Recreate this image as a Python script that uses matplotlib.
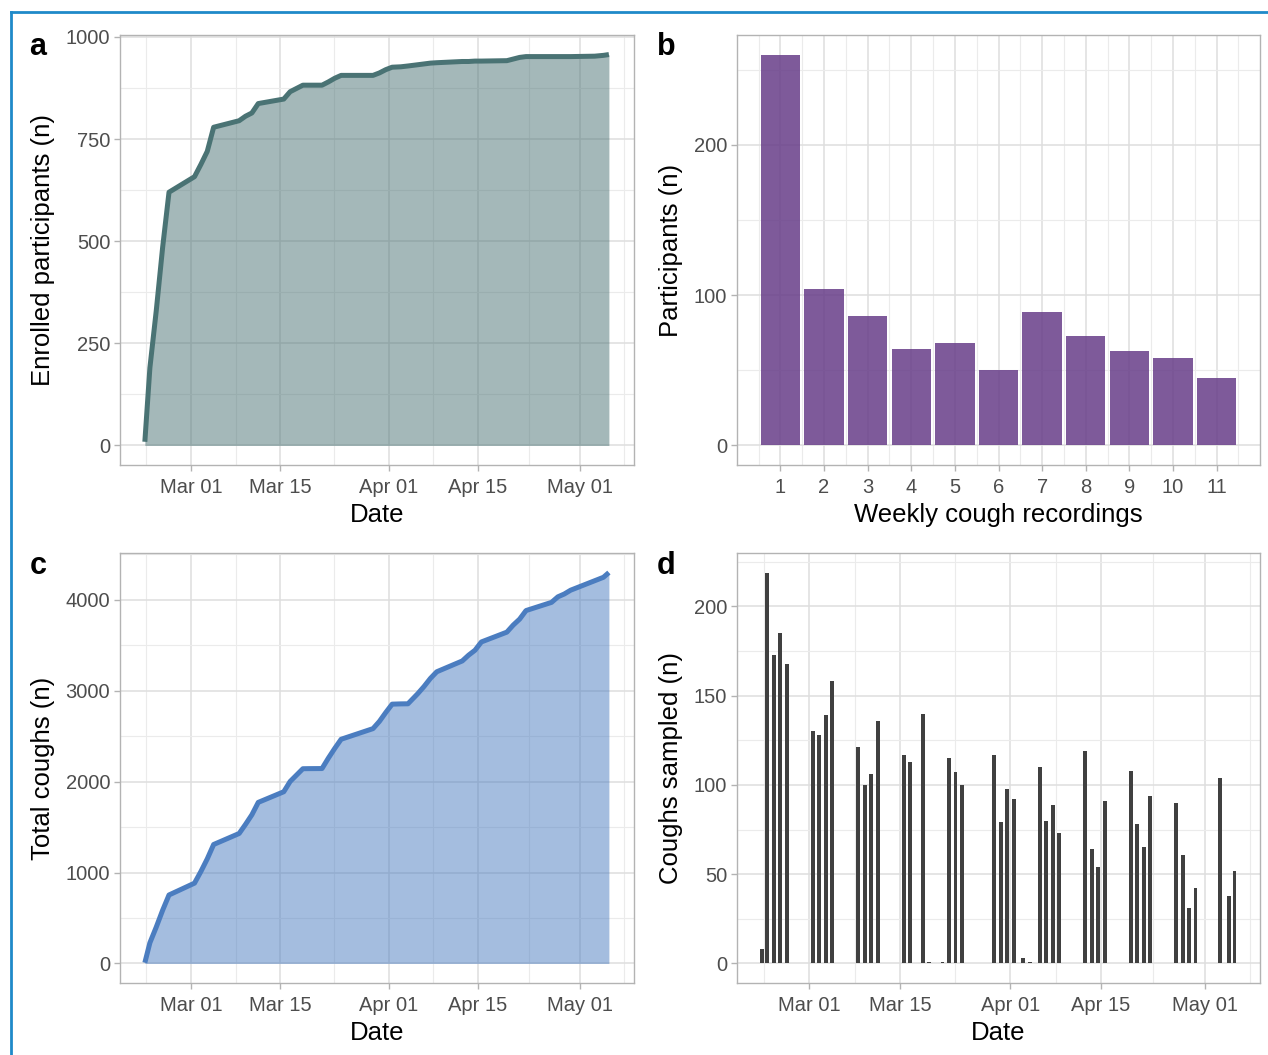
import matplotlib
matplotlib.use("Agg")
import matplotlib.pyplot as plt
import matplotlib.dates as mdates
from matplotlib.ticker import FixedLocator, NullFormatter
from matplotlib.lines import Line2D
import numpy as np
import pandas as pd

plt.rcParams['font.family'] = ['Liberation Sans', 'DejaVu Sans']

# ---------------- data ----------------
sample_times = [
    "2021-02-21 18:30", "2021-02-22 13:30", "2021-02-23 13:30", "2021-02-24 13:30", "2021-02-25 13:30",
    "2021-03-01 13:30", "2021-03-02 13:30", "2021-03-03 13:30", "2021-03-04 13:30",
    "2021-03-08 13:30", "2021-03-09 13:30", "2021-03-10 13:30", "2021-03-11 13:30",
    "2021-03-15 13:30", "2021-03-16 13:30", "2021-03-18 13:30", "2021-03-19 10:00",
    "2021-03-21 13:30", "2021-03-22 13:30", "2021-03-23 13:30", "2021-03-24 13:30",
    "2021-03-29 13:30", "2021-03-30 13:30", "2021-03-31 13:30", "2021-04-01 13:30",
    "2021-04-02 22:00", "2021-04-04 01:00",
    "2021-04-05 13:30", "2021-04-06 13:30", "2021-04-07 13:30", "2021-04-08 13:30",
    "2021-04-12 13:30", "2021-04-13 13:30", "2021-04-14 13:30", "2021-04-15 13:30",
    "2021-04-19 13:30", "2021-04-20 13:30", "2021-04-21 13:30", "2021-04-22 13:30",
    "2021-04-26 13:30", "2021-04-27 13:30", "2021-04-28 13:30", "2021-04-29 13:30",
    "2021-05-03 08:00", "2021-05-04 17:00", "2021-05-05 13:30",
]

enrolled = [
    9, 190, 330, 485, 620,
    658, 688, 720, 779,
    795, 806, 814, 837,
    848, 866, 882, 882,
    882, 890, 899, 906,
    906, 912, 920, 926,
    927, 929,
    932, 934, 936, 937,
    940, 940, 941, 941,
    942, 946, 950, 952,
    952, 952, 952, 952,
    953, 955, 957,
]

coughs_sampled = [
    8, 219, 173, 185, 168,
    130, 128, 139, 158,
    121, 100, 106, 136,
    117, 113, 140, 1,
    1, 115, 107, 100,
    117, 79, 98, 92,
    3, 1,
    110, 80, 89, 73,
    119, 64, 54, 91,
    108, 78, 65, 94,
    90, 61, 31, 42,
    104, 38, 52,
]

weekly_recordings = [1, 2, 3, 4, 5, 6, 7, 8, 9, 10, 11]
participants = [260, 104, 86, 64, 68, 50, 89, 73, 63, 58, 45]

date_breaks = ["2021-03-01 00:00", "2021-03-15 00:00", "2021-04-01 00:00",
               "2021-04-15 00:00", "2021-05-01 00:00"]
date_minor = ["2021-02-22 00:00", "2021-03-08 00:00", "2021-03-23 12:00",
              "2021-04-08 00:00", "2021-04-23 00:00", "2021-05-08 00:00"]
date_limits = ["2021-02-17 21:00", "2021-05-09 12:00"]

# ---------------- style ----------------
W, H = 1268, 1055
fig = plt.figure(figsize=(W / 100, H / 100), dpi=100)

COL_A = '#4A7374'
COL_B = '#673D89'
COL_C = '#4B7DC0'
COL_D = '#404040'
TICK_FS = 14.5
LAB_FS = 18.5


def ax_at(l, t, r, b):
    return fig.add_axes([l / W, 1 - b / H, (r - l) / W, (b - t) / H])


def tonum(s):
    return mdates.date2num(pd.to_datetime(s, format='mixed').to_pydatetime())


def style(ax):
    ax.set_facecolor('white')
    for s in ax.spines.values():
        s.set_color('#B3B3B3')
        s.set_linewidth(1.0)
    ax.grid(which='major', color='#DEDEDE', lw=1.1)
    ax.grid(which='minor', color='#EBEBEB', lw=0.8)
    ax.set_axisbelow(True)
    ax.tick_params(which='major', length=4.5, width=1, color='#B3B3B3',
                   labelsize=TICK_FS, labelcolor='#4D4D4D')
    ax.tick_params(axis='x', which='major', pad=5)
    ax.tick_params(axis='y', which='major', pad=2.5)
    ax.tick_params(which='minor', length=0)


def yexpand(ax, vmax, vmin=0.0):
    r = vmax - vmin
    ax.set_ylim(vmin - 0.05 * r, vmax + 0.05 * r)


def date_axis(ax):
    lim = tonum(date_limits)
    ax.set_xlim(lim[0], lim[1])
    ax.xaxis.set_major_locator(FixedLocator(tonum(date_breaks)))
    ax.xaxis.set_major_formatter(mdates.DateFormatter('%b %d'))
    ax.xaxis.set_minor_locator(FixedLocator(tonum(date_minor)))
    ax.xaxis.set_minor_formatter(NullFormatter())


tx = tonum(sample_times)

# ---------------- panel a ----------------
ax = ax_at(120, 35, 634, 465)
style(ax)
ax.fill_between(tx, enrolled, 0, color=COL_A, alpha=0.5, lw=0)
ax.plot(tx, enrolled, color=COL_A, lw=3.6, solid_joinstyle='round', solid_capstyle='butt')
date_axis(ax)
yexpand(ax, max(enrolled))
ax.yaxis.set_major_locator(FixedLocator([0, 250, 500, 750, 1000]))
ax.yaxis.set_minor_locator(FixedLocator([125, 375, 625, 875]))
ax.set_xlabel('Date', fontsize=LAB_FS, labelpad=4)
ax.set_ylabel('Enrolled participants (n)', fontsize=LAB_FS, labelpad=8)

# ---------------- panel b ----------------
ax = ax_at(737, 35, 1260, 465)
style(ax)
ax.bar(weekly_recordings, participants, width=0.9, color=COL_B, alpha=0.85, lw=0)
ax.set_xlim(0.005, 11.995)
ax.xaxis.set_major_locator(FixedLocator(weekly_recordings))
ax.xaxis.set_minor_locator(FixedLocator([w + 0.5 for w in [0] + weekly_recordings]))
yexpand(ax, max(participants))
ax.yaxis.set_major_locator(FixedLocator([0, 100, 200]))
ax.yaxis.set_minor_locator(FixedLocator([50, 150, 250]))
ax.set_xlabel('Weekly cough recordings', fontsize=LAB_FS, labelpad=4)
ax.set_ylabel('Participants (n)', fontsize=LAB_FS, labelpad=8)

# ---------------- panel c ----------------
total_coughs = np.cumsum(coughs_sampled)
ax = ax_at(120, 553, 634, 983)
style(ax)
ax.fill_between(tx, total_coughs, 0, color=COL_C, alpha=0.5, lw=0)
ax.plot(tx, total_coughs, color=COL_C, lw=3.6, solid_joinstyle='round', solid_capstyle='butt')
date_axis(ax)
yexpand(ax, total_coughs.max())
ax.yaxis.set_major_locator(FixedLocator([0, 1000, 2000, 3000, 4000]))
ax.yaxis.set_minor_locator(FixedLocator([500, 1500, 2500, 3500, 4500]))
ax.set_xlabel('Date', fontsize=LAB_FS, labelpad=4)
ax.set_ylabel('Total coughs (n)', fontsize=LAB_FS, labelpad=8)

# ---------------- panel d ----------------
ax = ax_at(737, 553, 1260, 983)
style(ax)
ax.bar(tx, coughs_sampled, width=0.6, color=COL_D, lw=0)
date_axis(ax)
yexpand(ax, max(coughs_sampled))
ax.yaxis.set_major_locator(FixedLocator([0, 50, 100, 150, 200]))
ax.yaxis.set_minor_locator(FixedLocator([25, 75, 125, 175, 225]))
ax.set_xlabel('Date', fontsize=LAB_FS, labelpad=4)
ax.set_ylabel('Coughs sampled (n)', fontsize=LAB_FS, labelpad=8)

# ---------------- panel letters ----------------
for letter, (x, y) in zip('abcd', [(38, 47), (666, 47), (38, 566), (666, 566)]):
    fig.text(x / W, 1 - y / H, letter, fontsize=22, fontweight='bold',
             ha='center', va='center', color='black')

# ---------------- outer blue frame (top and left) ----------------
fig.add_artist(Line2D([11 / W, 1.0], [1 - 12 / H, 1 - 12 / H], color='#1F8AC9', lw=2.0,
                      transform=fig.transFigure))
fig.add_artist(Line2D([11 / W, 11 / W], [0.0, 1 - 12 / H], color='#1F8AC9', lw=2.0,
                      transform=fig.transFigure))

fig.savefig('out.png', dpi=100, facecolor='white')
